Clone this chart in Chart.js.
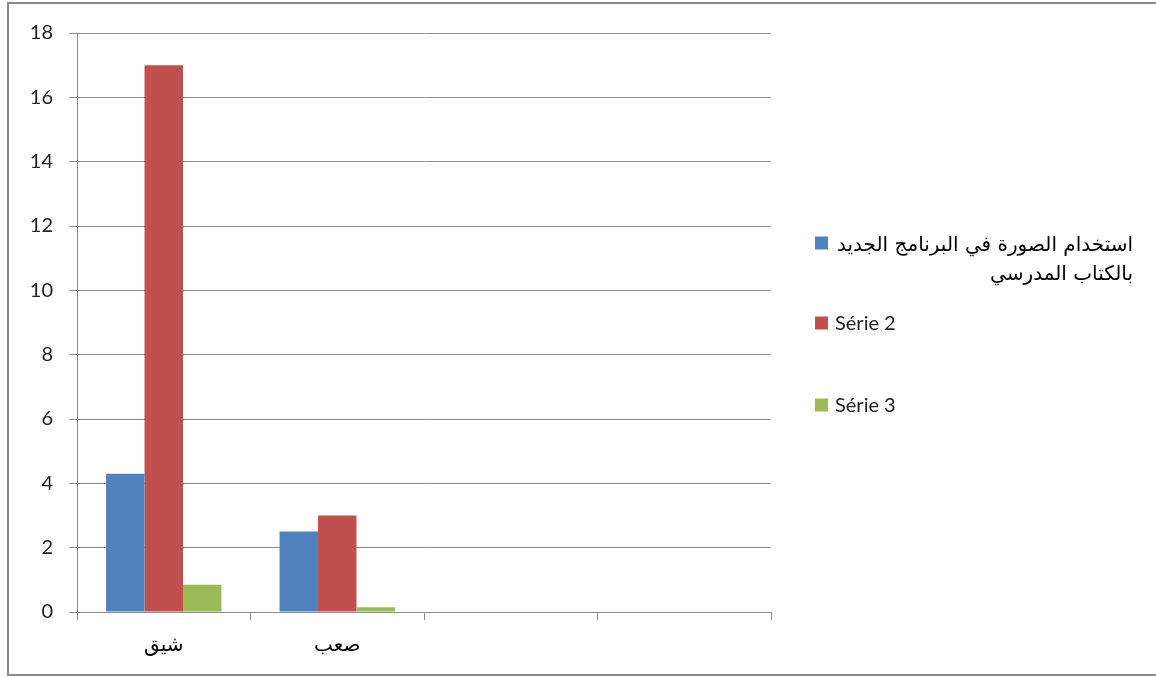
<!DOCTYPE html>
<html>
<head>
<meta charset="utf-8">
<script src="https://cdn.jsdelivr.net/npm/chart.js@4"></script>
<style>
  html, body { margin: 0; padding: 0; background: #fff; }
  #wrap { width: 1156px; height: 677px; position: relative; }
</style>
</head>
<body>
<div id="wrap"><canvas id="chart" width="1156" height="677"></canvas></div>
<script>
// Chart values
const categories = ['شيق', 'صعب', '', ''];
const series1Name = ['استخدام الصورة في البرنامج الجديد', 'بالكتاب المدرسي'];
const series1 = [4.3, 2.5, null, null];
const series2 = [17, 3, null, null];
const series3 = [0.85, 0.15, null, null];
const yTicks = [0, 2, 4, 6, 8, 10, 12, 14, 16, 18];

const colors = ['#4F81BD', '#C0504D', '#9BBB59'];
const gridColor = '#8c8c8c';

// Legend + outer frame drawn on the canvas (legend text wraps like the Office one)
const officeLegend = {
    id: 'officeLegend',
    afterDraw(chart) {
        const ctx = chart.ctx;
        ctx.save();
        // outer frame
        ctx.strokeStyle = '#8a8a8a';
        ctx.lineWidth = 2;
        ctx.strokeRect(8, 3, 1160, 672);

        const boxX = 815, box = 13, textRight = 1133;
        const items = [
            { color: colors[0], y: 243, lines: series1Name, rtl: true },
            { color: colors[1], y: 323, lines: ['Série 2'] },
            { color: colors[2], y: 405, lines: ['Série 3'] }
        ];
        items.forEach(it => {
            ctx.fillStyle = it.color;
            ctx.fillRect(boxX, it.y - box / 2, box, box);
            ctx.fillStyle = '#000';
            ctx.textBaseline = 'middle';
            if (it.rtl) {
                ctx.font = '20px "DejaVu Sans", sans-serif';
                ctx.direction = 'rtl';
                ctx.textAlign = 'right';
                it.lines.forEach((ln, i) => {
                    ctx.fillText(ln, textRight, it.y + 3 + i * 29, textRight - 836);
                });
            } else {
                ctx.font = '20px Lato, "Open Sans", sans-serif';
                ctx.direction = 'ltr';
                ctx.textAlign = 'left';
                ctx.fillStyle = '#222';
                ctx.fillText(it.lines[0], 835, it.y + 1);
            }
        });
        ctx.restore();
    }
};

new Chart(document.getElementById('chart').getContext('2d'), {
    type: 'bar',
    data: {
        labels: categories,
        datasets: [
            { label: series1Name.join(' '), data: series1, backgroundColor: colors[0] },
            { label: 'Série 2', data: series2, backgroundColor: colors[1] },
            { label: 'Série 3', data: series3, backgroundColor: colors[2] }
        ]
    },
    options: {
        responsive: false,
        animation: false,
        devicePixelRatio: 1,
        layout: { padding: { left: 0, top: 33, right: 385, bottom: 0 } },
        datasets: { bar: { categoryPercentage: 0.665, barPercentage: 1 } },
        plugins: { legend: { display: false }, tooltip: { enabled: false } },
        scales: {
            x: {
                afterFit: s => { s.height = 65; },
                grid: {
                    offset: true,
                    drawOnChartArea: false,
                    drawTicks: true,
                    tickLength: 8,
                    color: gridColor
                },
                border: { color: gridColor, width: 1 },
                ticks: {
                    color: '#000',
                    padding: 14,
                    font: { family: '"DejaVu Sans", sans-serif', size: 20 }
                }
            },
            y: {
                min: 0,
                max: 18,
                afterFit: s => { s.width = 77; },
                afterBuildTicks: s => { s.ticks = yTicks.map(v => ({ value: v })); },
                grid: { color: gridColor, tickLength: 8 },
                border: { color: gridColor, width: 1 },
                ticks: {
                    color: '#222',
                    padding: 16,
                    font: { family: 'Lato, "Open Sans", sans-serif', size: 20 }
                }
            }
        }
    },
    plugins: [officeLegend]
});
</script>
</body>
</html>
